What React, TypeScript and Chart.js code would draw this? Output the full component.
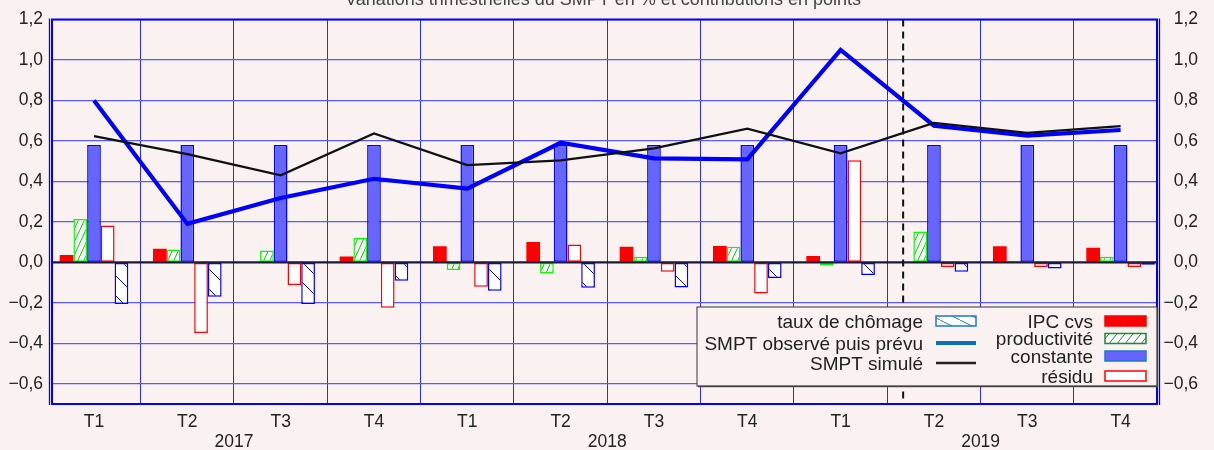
import React, { useEffect, useRef } from 'react';
import { Chart, registerables } from 'chart.js';

Chart.register(...registerables);

// ---------- data ----------
const TITLE = 'Variations trimestrielles du SMPT en % et contributions en points';
const QUARTERS = ['T1', 'T2', 'T3', 'T4', 'T1', 'T2', 'T3', 'T4', 'T1', 'T2', 'T3', 'T4'];
const YEARS = ['2017', '2018', '2019'];

const IPC = [0.036, 0.067, 0, 0.029, 0.08, 0.101, 0.077, 0.081, 0.031, 0, 0.079, 0.072];
const PRODUCTIVITE = [0.214, 0.064, 0.059, 0.121, -0.038, -0.054, 0.028, 0.077, -0.015, 0.152, 0.008, 0.028];
const CONSTANTE = [0.58, 0.58, 0.58, 0.58, 0.58, 0.58, 0.58, 0.58, 0.58, 0.58, 0.58, 0.58];
const RESIDU = [0.182, -0.349, -0.112, -0.224, -0.121, 0.088, -0.046, -0.154, 0.504, -0.023, -0.023, -0.023];
const CHOMAGE = [-0.206, -0.17, -0.206, -0.091, -0.14, -0.126, -0.124, -0.077, -0.062, -0.046, -0.031, -0.012];
const SMPT_OBS = [0.8, 0.19, 0.318, 0.413, 0.364, 0.591, 0.514, 0.509, 1.05, 0.675, 0.626, 0.654];
const SMPT_SIM = [0.624, 0.535, 0.43, 0.637, 0.48, 0.504, 0.563, 0.661, 0.539, 0.689, 0.64, 0.673];

const Y_TICKS = [-0.6, -0.4, -0.2, 0, 0.2, 0.4, 0.6, 0.8, 1.0, 1.2];
const Y_MIN = -0.7;
const Y_MAX = 1.2;
const X_MIN = -0.45;
const X_MAX = 11.39;
const FORECAST_SPLIT = 8.67;

const L_CHOMAGE = 'taux de chômage';
const L_OBS = 'SMPT observé puis prévu';
const L_SIM = 'SMPT simulé';
const L_IPC = 'IPC cvs';
const L_PROD = 'productivité';
const L_CONST = 'constante';
const L_RESIDU = 'résidu';
const LEGEND_COL1 = [L_CHOMAGE, L_OBS, L_SIM];
const LEGEND_COL2 = [L_IPC, L_PROD, L_CONST, L_RESIDU];

// ---------- styles ----------
const BG = '#f9f2f0';
const FONT = '"Liberation Sans", Arial, Helvetica, sans-serif';
const TXT = '#222222';

const pts = (arr: number[]) => arr.map((v, i) => ({ x: i, y: v }));

function makeHatch(ctx: CanvasRenderingContext2D, color: string, w: number, h: number, dir: '/' | '\\', bg: string) {
  const c = document.createElement('canvas');
  c.width = w;
  c.height = h;
  const g = c.getContext('2d') as CanvasRenderingContext2D;
  g.fillStyle = bg;
  g.fillRect(0, 0, w, h);
  g.strokeStyle = color;
  g.lineWidth = 1;
  g.beginPath();
  for (const k of [-1, 0, 1]) {
    if (dir === '/') {
      g.moveTo(k * w, h);
      g.lineTo(k * w + w, 0);
    } else {
      g.moveTo(k * w, 0);
      g.lineTo(k * w + w, h);
    }
  }
  g.stroke();
  return ctx.createPattern(c, 'repeat') as CanvasPattern;
}

const fmtY = (v: number) => {
  const s = Math.abs(v).toFixed(1).replace('.', ',');
  return v < -1e-9 ? '\u2212' + s : s;
};

export default function App() {
  const ref = useRef<HTMLCanvasElement>(null);

  useEffect(() => {
    document.body.style.margin = '0';
    document.body.style.background = BG;
    const canvas = ref.current as HTMLCanvasElement;
    const ctx = canvas.getContext('2d') as CanvasRenderingContext2D;

    const prodPattern = makeHatch(ctx, '#00cc00', 6, 13, '/', '#ffffff');
    const chomPattern = makeHatch(ctx, '#0000ff', 20, 20, '\\', '#ffffff');
    const prodLegPattern = makeHatch(ctx, '#1a8a3a', 8, 10, '/', '#ffffff');
    const chomLegPattern = makeHatch(ctx, '#1e78d0', 20, 10, '\\', '#ffffff');

    const swatches: Record<string, any> = {
      [L_CHOMAGE]: { kind: 'box', fill: chomLegPattern, stroke: '#1e78d0' },
      [L_OBS]: { kind: 'line', stroke: '#0a6fc0', width: 4 },
      [L_SIM]: { kind: 'line', stroke: '#222222', width: 2.5 },
      [L_IPC]: { kind: 'box', fill: '#ff0000', stroke: '#ff0000' },
      [L_PROD]: { kind: 'box', fill: prodLegPattern, stroke: '#1a8a3a' },
      [L_CONST]: { kind: 'box', fill: '#6464ff', stroke: '#1e78d0' },
      [L_RESIDU]: { kind: 'box', fill: '#ffffff', stroke: '#ff0000' },
    };

    const overlay = {
      id: 'overlay',
      afterDatasetsDraw(chart: any) {
        const c = chart.ctx as CanvasRenderingContext2D;
        const a = chart.chartArea;
        const xs = chart.scales.x;
        const ys = chart.scales.y;
        c.save();
        // zero line
        const y0 = ys.getPixelForValue(0);
        c.strokeStyle = '#1c1a3a';
        c.lineWidth = 2.2;
        c.beginPath();
        c.moveTo(a.left, y0);
        c.lineTo(a.right, y0);
        c.stroke();
        // forecast separator
        const xf = xs.getPixelForValue(FORECAST_SPLIT);
        c.setLineDash([7, 5]);
        c.strokeStyle = '#111111';
        c.lineWidth = 2;
        c.beginPath();
        c.moveTo(xf, a.top);
        c.lineTo(xf, a.bottom);
        c.stroke();
        c.setLineDash([]);
        // frame
        c.strokeStyle = '#0000ff';
        c.lineWidth = 2;
        c.strokeRect(a.left, a.top, a.right - a.left, a.bottom - a.top);
        c.lineWidth = 1.3;
        c.beginPath();
        c.moveTo(a.left - 2.5, a.top - 1);
        c.lineTo(a.left - 2.5, a.bottom + 1);
        c.moveTo(a.right + 2.5, a.top - 1);
        c.lineTo(a.right + 2.5, a.bottom + 1);
        c.stroke();

        // legend box
        const bx = 697, by = 307, bw = 460, bh = 79;
        c.fillStyle = BG;
        c.fillRect(bx, by, bw, bh);
        c.strokeStyle = '#555555';
        c.lineWidth = 1.5;
        c.beginPath();
        c.moveTo(bx + bw + 0.5, by + 1);
        c.lineTo(bx + bw + 0.5, by + bh + 0.5);
        c.lineTo(bx + 1, by + bh + 0.5);
        c.stroke();
        c.strokeStyle = '#333333';
        c.lineWidth = 1;
        c.strokeRect(bx, by, bw, bh);

        c.font = `19px ${FONT}`;
        c.textAlign = 'right';
        c.textBaseline = 'alphabetic';
        const drawEntry = (label: string, textRight: number, sx: number, sw: number, cy: number) => {
          c.fillStyle = TXT;
          c.fillText(label, textRight, cy + 6.5);
          const s = swatches[label];
          if (s.kind === 'line') {
            c.strokeStyle = s.stroke;
            c.lineWidth = s.width;
            c.beginPath();
            c.moveTo(sx, cy);
            c.lineTo(sx + sw, cy);
            c.stroke();
          } else {
            c.fillStyle = s.fill;
            c.fillRect(sx, cy - 5, sw, 10);
            c.strokeStyle = s.stroke;
            c.lineWidth = 1.5;
            c.strokeRect(sx, cy - 5, sw, 10);
          }
        };
        const rows1 = [321, 343, 363];
        LEGEND_COL1.forEach((l, i) => drawEntry(l, 923, 936, 40, rows1[i]));
        const rows2 = [321, 338.5, 356, 376];
        LEGEND_COL2.forEach((l, i) => drawEntry(l, 1093, 1105, 41, rows2[i]));

        // years under quarter labels
        c.font = `17.5px ${FONT}`;
        c.fillStyle = TXT;
        c.textAlign = 'center';
        c.textBaseline = 'middle';
        YEARS.forEach((yr, k) => {
          c.fillText(yr, xs.getPixelForValue(k * 4 + 1.5), 442);
        });

        // title (mostly cut off at top)
        c.font = `18px ${FONT}`;
        c.fillStyle = '#444444';
        c.textBaseline = 'alphabetic';
        c.fillText(TITLE, 603, 5);
        c.restore();
      },
    };

    const tickFont = { family: FONT, size: 17.5 };

    const chart = new Chart(canvas, {
      type: 'bar',
      data: {
        datasets: [
          { type: 'line', label: L_SIM, data: pts(SMPT_SIM), borderColor: '#111111', borderWidth: 2.3, pointRadius: 0, tension: 0, order: 0 } as any,
          { type: 'line', label: L_OBS, data: pts(SMPT_OBS), borderColor: '#0000ff', borderWidth: 4.2, pointRadius: 0, tension: 0, order: 0 } as any,
          { type: 'bar', label: L_IPC, data: pts(IPC), backgroundColor: '#ff0000', borderWidth: 0, order: 1 },
          { type: 'bar', label: L_PROD, data: pts(PRODUCTIVITE), backgroundColor: prodPattern, borderColor: '#00ff00', borderWidth: 1.5, borderSkipped: false, order: 1 },
          { type: 'bar', label: L_CONST, data: pts(CONSTANTE), backgroundColor: '#6666ff', borderColor: '#0000ff', borderWidth: 1.5, borderSkipped: false, order: 1 },
          { type: 'bar', label: L_RESIDU, data: pts(RESIDU), backgroundColor: '#ffffff', borderColor: '#ff0000', borderWidth: 1.5, borderSkipped: false, order: 1 },
          { type: 'bar', label: L_CHOMAGE, data: pts(CHOMAGE), backgroundColor: chomPattern, borderColor: '#0000ff', borderWidth: 1.5, borderSkipped: false, order: 1 },
        ],
      },
      options: {
        responsive: false,
        animation: false,
        devicePixelRatio: 1,
        layout: { padding: { top: 17, right: 16, left: 0, bottom: 0 } },
        datasets: { bar: { categoryPercentage: 0.735, barPercentage: 1 } },
        plugins: { legend: { display: false }, tooltip: { enabled: false } },
        scales: {
          x: {
            type: 'linear',
            min: X_MIN,
            max: X_MAX,
            offset: false,
            afterBuildTicks: (s: any) => { s.ticks = QUARTERS.map((_, i) => ({ value: i })); },
            afterFit: (s: any) => { s.height = 46; },
            ticks: {
              callback: (v: any) => QUARTERS[v] ?? '',
              autoSkip: false,
              maxRotation: 0,
              font: tickFont,
              color: TXT,
              padding: 8,
            },
            grid: { offset: true, color: '#2a2aff', lineWidth: 1, drawTicks: false },
            border: { display: false },
          },
          y: {
            type: 'linear',
            position: 'left',
            min: Y_MIN,
            max: Y_MAX,
            afterBuildTicks: (s: any) => { s.ticks = Y_TICKS.map((v) => ({ value: v })); },
            afterFit: (s: any) => { s.width = 52; },
            ticks: { callback: (v: any) => fmtY(v), font: tickFont, color: TXT, padding: 9 },
            grid: {
              color: (cx: any) => (cx.tick && Math.abs(cx.tick.value) < 1e-9 ? 'rgba(0,0,0,0)' : '#5a5aff'),
              lineWidth: 1.2,
              drawTicks: false,
            },
            border: { display: false },
          },
          y2: {
            type: 'linear',
            position: 'right',
            min: Y_MIN,
            max: Y_MAX,
            afterBuildTicks: (s: any) => { s.ticks = Y_TICKS.map((v) => ({ value: v })); },
            afterFit: (s: any) => { s.width = 41; },
            ticks: { callback: (v: any) => fmtY(v), font: tickFont, color: TXT, padding: 9, crossAlign: 'far' },
            grid: { display: false, drawTicks: false },
            border: { display: false },
          },
        },
      } as any,
      plugins: [overlay],
    });

    return () => chart.destroy();
  }, []);

  return (
    <div style={{ position: 'absolute', left: 0, top: 0, width: 1214, height: 450, background: BG }}>
      <canvas ref={ref} width={1214} height={450} style={{ display: 'block', width: 1214, height: 450 }} />
    </div>
  );
}
